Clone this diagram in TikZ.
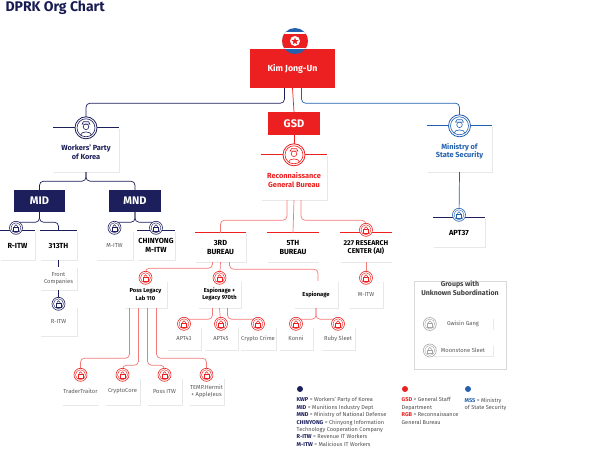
\documentclass[tikz,border=0pt]{standalone}
\usepackage{fontspec}
\setmainfont{Fira Sans}
\usetikzlibrary{positioning, shapes.geometric, shadows}
\definecolor{navy}{HTML}{1C1F5B}
\definecolor{dred}{HTML}{EC2020}
\definecolor{mblue}{HTML}{2360AE}
\definecolor{lred}{HTML}{F47A78}
\tikzset{
  card/.style={draw=none, fill=white, align=center, font=\fontsize{7.4}{8.6}\selectfont\bfseries,
    drop shadow={shadow xshift=0.6pt, shadow yshift=-0.8pt, opacity=0.18}, inner sep=1pt},
  small/.style={card, font=\fontsize{5.8}{7}\selectfont, text=black!65},
  solid box/.style={draw=none, align=center, text=white, font=\fontsize{11}{12}\selectfont\bfseries},
  link/.style={line width=0.7pt, rounded corners=4pt},
  officer/.pic={
    \draw[line width=0.8pt, fill=white] (0,0) circle (11);
    \draw[line width=0.6pt] (0,0) circle (9);
    \draw[line width=0.6pt] (0,-1) circle (2.8);
    \draw[line width=0.6pt] (-4,-3.6) -- (4,-3.6) -- (2.6,-6) -- (-2.6,-6) -- cycle;
    \draw[line width=0.6pt] (-5.5,7.5) .. controls (-5.5,3) and (5.5,3) .. (5.5,7.5);
  },
  lock/.pic={
    \draw[line width=0.6pt, fill=white] (0,0) circle (6.5);
    \draw[line width=0.4pt] (0,0) circle (5);
    \draw[line width=0.5pt] (-1.5,-0.3) -- (-1.5,-1.6) .. controls (-1.5,-3.6) and (1.5,-3.6) .. (1.5,-1.6) -- (1.5,-0.3);
    \draw[line width=0.5pt] (-2.5,-0.3) rectangle (2.5,3);
  },
  flag/.pic={
    \begin{scope}
      \clip (0,0) circle (13);
      \fill[mblue] (-13,-13) rectangle (13,13);
      \fill[white] (-13,-8.5) rectangle (13,8.5);
      \fill[dred] (-13,-7) rectangle (13,7);
      \fill[white] (0,0) circle (5);
      \node[star, star points=5, star point ratio=2.4, fill=dred, inner sep=0, minimum size=7.5] at (0,0.3) {};
    \end{scope}
  },
}
\begin{document}
\begin{tikzpicture}[x=1pt, y=-1pt]
  \useasboundingbox (0,0) rectangle (600,465);
  \node[anchor=west, font=\fontsize{14}{15}\selectfont\bfseries, text=navy!90!black] (title) at (2,8) {DPRK Org Chart};

  % top level
  \node[solid box, fill=dred, minimum width=85, minimum height=39] (kim) at (292.5,68.5) {\fontsize{8.8}{9}\selectfont Kim Jong-Un};
  \pic at (295,41) {flag};
  \node[solid box, fill=dred, minimum width=52, minimum height=23] (gsd) at (294,123.5) {GSD};
  \node[card, text=navy, minimum width=66, minimum height=44] (wpk) at (86,150) {\\[2pt]Workers' Party\\of Korea};
  \node[card, text=dred, minimum width=66, minimum height=45] (rgb) at (294,177.5) {\\[2pt]Reconnaissance\\General Bureau};
  \node[card, text=mblue, minimum width=65, minimum height=46] (mss) at (459.5,149) {\\[2pt]Ministry of\\State Security};
  \node[solid box, fill=navy, minimum width=51, minimum height=22] (mid) at (39.5,201) {MID};
  \node[solid box, fill=navy, minimum width=52, minimum height=22] (mnd) at (135,201) {MND};

  % second row
  \node[card, minimum width=35, minimum height=29] (ritwA) at (17.5,245.5) {R-ITW};
  \node[card, minimum width=37, minimum height=29] (thirteen) at (58.5,245.5) {313TH};
  \node[small, minimum width=37, minimum height=29] (mitwA) at (114.5,245.5) {M-ITW};
  \node[card, minimum width=38, minimum height=29] (chin) at (156,245.5) {CHINYONG\\M-ITW};
  \node[small, minimum width=37, minimum height=23] (front) at (58.5,278.5) {Front\\Companies};
  \node[small, minimum width=37, minimum height=29] (ritwB) at (58.5,321.5) {R-ITW};
  \node[card, minimum width=51, minimum height=29] (bur3) at (220.5,247.5) {3RD\\BUREAU};
  \node[card, minimum width=51, minimum height=29] (bur5) at (293,247.5) {5TH\\BUREAU};
  \node[card, font=\fontsize{7}{8.6}\selectfont\bfseries, minimum width=51, minimum height=29] (res227) at (366,247.5) {227 RESEARCH\\CENTER (AI)};
  \node[card, minimum width=52, minimum height=29] (apt37) at (459,232.5) {APT37};

  % third row
  \node[card, font=\fontsize{5.8}{7.2}\selectfont\bfseries, minimum width=43, minimum height=27] (lab110) at (145.5,294.5) {Poss Legacy\\Lab 110};
  \node[card, font=\fontsize{5.8}{7.2}\selectfont\bfseries, minimum width=43, minimum height=27] (esp970) at (219.5,294.5) {Espionage +\\Legacy 970th};
  \node[card, font=\fontsize{5.8}{7.2}\selectfont\bfseries, minimum width=44, minimum height=27] (espi) at (316,294.5) {Espionage};
  \node[small, minimum width=34, minimum height=27] (mitwB) at (366,294.5) {M-ITW};
  \node[small, minimum width=34, minimum height=23] (apt43) at (184,338.5) {APT43};
  \node[small, minimum width=34, minimum height=23] (apt45) at (221,338.5) {APT45};
  \node[small, minimum width=34, minimum height=23] (ccrime) at (258,338.5) {Crypto Crime};
  \node[small, minimum width=34, minimum height=23] (konni) at (296,338.5) {Konni};
  \node[small, minimum width=34, minimum height=23] (ruby) at (338,338.5) {Ruby Sleet};
  \node[small, minimum width=35, minimum height=27] (trader) at (80.5,391.5) {TraderTraitor};
  \node[small, minimum width=35, minimum height=27] (ccore) at (122.5,391.5) {CryptoCore};
  \node[small, minimum width=35, minimum height=27] (possitw) at (164.5,391.5) {Poss ITW};
  \node[small, minimum width=35, minimum height=27] (temp) at (206.5,391.5) {TEMP.Hermit\\+ AppleJeus};

  % coloured top bars
  \foreach \n/\c in {wpk/navy, mss/mblue, rgb/dred, ritwA/navy, thirteen/navy, chin/navy,
                     bur3/dred, bur5/dred, res227/dred, apt37/navy}
    \draw[\c, line width=1.2pt] (\n.north west) -- (\n.north east);

  % connectors
  \draw[link, navy] ([xshift=-8]kim.south) -- ++(0,15) -| (wpk.north);
  \draw[link, dred] (kim.south) -- (gsd.north);
  \draw[link, mblue] ([xshift=9]kim.south) -- ++(0,15) -| (mss.north);
  \draw[link, dred] (gsd.south) -- (rgb.north);
  \draw[link, navy] (wpk.south) -- ++(0,9) -| (mid.north);
  \draw[link, navy] (wpk.south) -- ++(0,9) -| (mnd.north);
  \draw[link, navy] (mid.south) -- ++(0,10) -| ([xshift=-1.5]ritwA.north);
  \draw[link, navy] (mid.south) -- ++(0,10) -| (thirteen.north);
  \draw[link, navy] (mnd.south) -- ++(0,10) -| (mitwA.north);
  \draw[link, navy] (mnd.south) -- ++(0,10) -| (chin.north);
  \draw[link, navy] (thirteen.south) -- (front.north);
  \draw[link, navy] (front.south) -- (ritwB.north);
  \draw[link, mblue] (mss.south) -- (apt37.north);
  \draw[link, lred] ([xshift=-7]rgb.south) -- ++(0,20) -| (bur3.north);
  \draw[link, lred] (rgb.south) -- (bur5.north);
  \draw[link, lred] ([xshift=7]rgb.south) -- ++(0,20) -| (res227.north);
  \draw[link, lred] ([xshift=-8]bur3.south) -- ++(0,6) -| (lab110.north);
  \draw[link, lred] (bur3.south) -- (esp970.north);
  \draw[link, lred] ([xshift=9]bur3.south) -- ++(0,7) -| ([xshift=2]espi.north);
  \draw[link, lred] (res227.south) -- (mitwB.north);
  \draw[link, lred] ([xshift=-7]esp970.south) -- ++(0,11) -| (apt43.north);
  \draw[link, lred] (esp970.south) -- (apt45.north);
  \draw[link, lred] ([xshift=8]esp970.south) -- ++(0,11) -| (ccrime.north);
  \draw[link, lred] (espi.south) -- ++(0,11) -| (konni.north);
  \draw[link, lred] (espi.south) -- ++(0,11) -| (ruby.north);
  \draw[link, lred] ([xshift=-16]lab110.south) -- ++(0,50) -| (trader.north);
  \draw[link, lred] ([xshift=-7]lab110.south) -- ++(0,57) -| (ccore.north);
  \draw[link, lred] ([xshift=2]lab110.south) -- ++(0,57) -| (possitw.north);
  \draw[link, lred] ([xshift=11]lab110.south) -- ++(0,50) -| (temp.north);

  % icons
  \pic[navy] at (wpk.north) {officer};
  \pic[dred] at (rgb.north) {officer};
  \pic[mblue] at (mss.north) {officer};
  \foreach \n in {mitwA, chin, ritwB}
    \pic[navy] at ([yshift=3]\n.north) {lock};
  \pic[navy] at ([xshift=-1.5,yshift=3]ritwA.north) {lock};
  \pic[mblue] at ([yshift=3]apt37.north) {lock};
  \foreach \n in {res227, lab110, esp970, mitwB, apt43, apt45, ccrime, konni, ruby, trader, ccore, possitw, temp}
    \pic[dred] at ([yshift=3]\n.north) {lock};

  % groups with unknown subordination
  \node[draw=black!15, line width=0.8pt, fill=white, minimum width=92, minimum height=88] (groups) at (460,325) {};
  \node[font=\fontsize{7}{8.2}\selectfont\bfseries, text=black!75, align=center, below=3 of groups.north] (gtitle) {Groups with\\Unknown Subordination};
  \node[small, minimum width=60, minimum height=11] (gwisin) at (463,324) {Gwisin Gang};
  \node[small, minimum width=60, minimum height=11] (moon) at (463,350.5) {Moonstone Sleet};
  \pic[black!35] at ([xshift=-3]gwisin.west) {lock};
  \pic[black!35] at ([xshift=-3]moon.west) {lock};

  % legend
  \fill[navy] (300,389) circle (3) coordinate (dotK);
  \fill[dred] (405,389) circle (3) coordinate (dotG);
  \fill[mblue] (468,389) circle (3) coordinate (dotM);
  \node[anchor=north west, align=left, text=black!70, font=\fontsize{5.6}{7.4}\selectfont, inner sep=0] (legK) at (296.5,397.5)
    {\textcolor{navy}{\bfseries KWP} = Workers' Party of Korea\\
     \textcolor{navy}{\bfseries MID} = Munitions Industry Dept\\
     \textcolor{navy}{\bfseries MND} = Ministry of National Defense\\
     \textcolor{navy}{\bfseries CHINYONG} = Chinyong Information\\
     Technology Cooperation Company\\
     \textcolor{navy}{\bfseries R-ITW} = Revenue IT Workers\\
     \textcolor{navy}{\bfseries M-ITW} = Malicious IT Workers};
  \node[anchor=north west, align=left, text=black!70, font=\fontsize{5.6}{7.4}\selectfont, inner sep=0] (legG) at (401.5,397.5)
    {\textcolor{dred}{\bfseries GSD} = General Staff\\
     Department\\
     \textcolor{dred}{\bfseries RGB} = Reconnaissance\\
     General Bureau};
  \node[anchor=north west, align=left, text=black!70, font=\fontsize{5.6}{7.4}\selectfont, inner sep=0] (legM) at (464.5,397.5)
    {\textcolor{mblue}{\bfseries MSS} = Ministry\\
     of State Security};
\end{tikzpicture}
\end{document}
